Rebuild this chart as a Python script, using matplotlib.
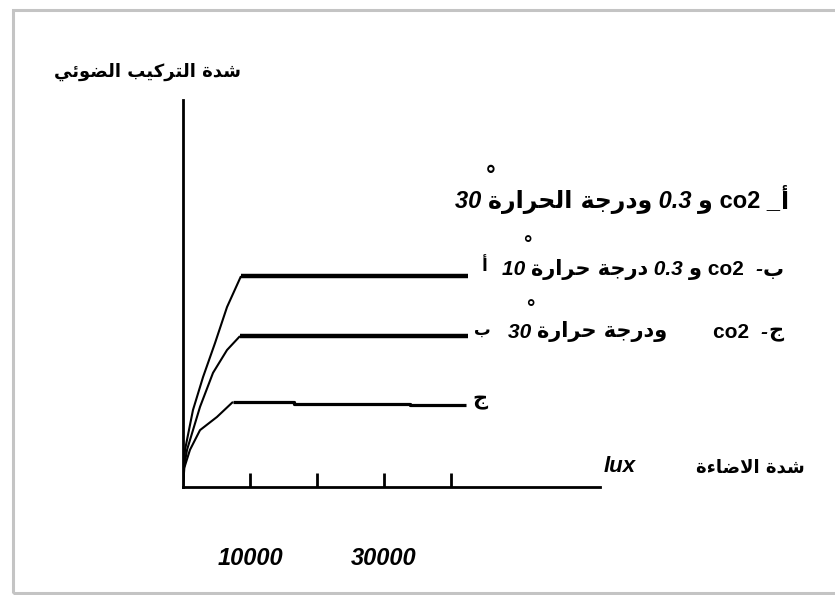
import matplotlib
matplotlib.use("Agg")
import matplotlib.pyplot as plt
from matplotlib.patches import Rectangle

plt.rcParams['font.family'] = ['Liberation Sans', 'DejaVu Sans']

# ---------------- data (lux, relative photosynthesis rate) ----------------
a_rise_x = [0, 150, 300, 1490, 2990, 4780, 6570, 8660]
a_rise_y = [0, 0.5, 0.96, 1.99, 2.84, 3.72, 4.65, 5.45]
a_flat_x = [8660, 42540]
a_flat_y = [5.45, 5.45]

b_rise_x = [0, 150, 600, 2540, 4480, 6570, 8510]
b_rise_y = [0, 0.5, 0.96, 2.07, 2.95, 3.54, 3.90]
b_flat_x = [8510, 42540]
b_flat_y = [3.90, 3.90]

c_rise_x = [0, 200, 1040, 2540, 5070, 7460]
c_rise_y = [0, 0.5, 0.96, 1.47, 1.81, 2.20]
c_flat_x = [7460, 16570, 16570, 33880, 33880, 42240]
c_flat_y = [2.20, 2.20, 2.15, 2.15, 2.12, 2.12]

tick_pos = [10000, 20000, 30000, 40000]
tick_lbl = ["10000", "", "30000", ""]

# ---------------- minimal Arabic shaping (presentation forms) ----------------
FORMS = {
    'ا': (0xFE8D, 0xFE8E, None, None), 'أ': (0xFE83, 0xFE84, None, None),
    'إ': (0xFE87, 0xFE88, None, None), 'آ': (0xFE81, 0xFE82, None, None),
    'ب': (0xFE8F, 0xFE90, 0xFE91, 0xFE92), 'ة': (0xFE93, 0xFE94, None, None),
    'ت': (0xFE95, 0xFE96, 0xFE97, 0xFE98), 'ث': (0xFE99, 0xFE9A, 0xFE9B, 0xFE9C),
    'ج': (0xFE9D, 0xFE9E, 0xFE9F, 0xFEA0), 'ح': (0xFEA1, 0xFEA2, 0xFEA3, 0xFEA4),
    'خ': (0xFEA5, 0xFEA6, 0xFEA7, 0xFEA8), 'د': (0xFEA9, 0xFEAA, None, None),
    'ذ': (0xFEAB, 0xFEAC, None, None), 'ر': (0xFEAD, 0xFEAE, None, None),
    'ز': (0xFEAF, 0xFEB0, None, None), 'س': (0xFEB1, 0xFEB2, 0xFEB3, 0xFEB4),
    'ش': (0xFEB5, 0xFEB6, 0xFEB7, 0xFEB8), 'ص': (0xFEB9, 0xFEBA, 0xFEBB, 0xFEBC),
    'ض': (0xFEBD, 0xFEBE, 0xFEBF, 0xFEC0), 'ط': (0xFEC1, 0xFEC2, 0xFEC3, 0xFEC4),
    'ظ': (0xFEC5, 0xFEC6, 0xFEC7, 0xFEC8), 'ع': (0xFEC9, 0xFECA, 0xFECB, 0xFECC),
    'غ': (0xFECD, 0xFECE, 0xFECF, 0xFED0), 'ف': (0xFED1, 0xFED2, 0xFED3, 0xFED4),
    'ق': (0xFED5, 0xFED6, 0xFED7, 0xFED8), 'ك': (0xFED9, 0xFEDA, 0xFEDB, 0xFEDC),
    'ل': (0xFEDD, 0xFEDE, 0xFEDF, 0xFEE0), 'م': (0xFEE1, 0xFEE2, 0xFEE3, 0xFEE4),
    'ن': (0xFEE5, 0xFEE6, 0xFEE7, 0xFEE8), 'ه': (0xFEE9, 0xFEEA, 0xFEEB, 0xFEEC),
    'و': (0xFEED, 0xFEEE, None, None), 'ى': (0xFEEF, 0xFEF0, None, None),
    'ي': (0xFEF1, 0xFEF2, 0xFEF3, 0xFEF4), 'ئ': (0xFE89, 0xFE8A, 0xFE8B, 0xFE8C),
    'ؤ': (0xFE85, 0xFE86, None, None), 'ء': (0xFE80, None, None, None),
}
LAMALEF = {'ا': (0xFEFB, 0xFEFC), 'أ': (0xFEF7, 0xFEF8),
           'إ': (0xFEF9, 0xFEFA), 'آ': (0xFEF5, 0xFEF6)}


def joins_next(ch):
    return ch in FORMS and FORMS[ch][2] is not None


def joins(ch):
    return ch in FORMS and FORMS[ch][1] is not None


def ar(s):
    out = []
    i = 0
    n = len(s)
    while i < n:
        ch = s[i]
        prev = s[i - 1] if i > 0 else ''
        if ch not in FORMS:
            out.append(ch)
            i += 1
            continue
        cp = joins_next(prev)
        if ch == 'ل' and i + 1 < n and s[i + 1] in LAMALEF:
            iso, fin = LAMALEF[s[i + 1]]
            out.append(chr(fin if cp else iso))
            i += 2
            continue
        nxt = s[i + 1] if i + 1 < n else ''
        cn = joins_next(ch) and joins(nxt)
        cp = cp and joins(ch)
        iso, fin, ini, med = FORMS[ch]
        if cp and cn:
            g = med
        elif cp:
            g = fin
        elif cn:
            g = ini
        else:
            g = iso
        out.append(chr(g))
        i += 1
    return ''.join(reversed(out))


# ---------------- figure ----------------
W, H = 835, 595
fig = plt.figure(figsize=(W / 100, H / 100), dpi=100)
fig.patch.set_facecolor('white')
renderer = fig.canvas.get_renderer()

ox, oy = 183, 487          # origin in pixels
px_per_lux = 67 / 10000
px_per_unit = 38.7
x_end_px, y_top_px = 600, 100
ax = fig.add_axes([ox / W, (H - oy) / H, (x_end_px - ox) / W, (oy - y_top_px) / H])
ax.set_xlim(0, (x_end_px - ox) / px_per_lux)
ax.set_ylim(0, (oy - y_top_px) / px_per_unit)
ax.set_facecolor('none')
for s in ('top', 'right'):
    ax.spines[s].set_visible(False)
for s in ('left', 'bottom'):
    ax.spines[s].set_linewidth(2.0)
    ax.spines[s].set_color('black')
ax.set_yticks([])
ax.set_xticks(tick_pos)
ax.set_xticklabels(tick_lbl, fontsize=17, fontweight='bold', fontstyle='italic')
ax.tick_params(axis='x', direction='in', length=10, width=2, pad=43)

thin, thick = 1.5, 3.2
for rx, ry in ((a_rise_x, a_rise_y), (b_rise_x, b_rise_y), (c_rise_x, c_rise_y)):
    ax.plot(rx, ry, color='black', lw=thin, solid_capstyle='butt')
for fx, fy, lw in ((a_flat_x, a_flat_y, thick), (b_flat_x, b_flat_y, thick), (c_flat_x, c_flat_y, 2.3)):
    ax.plot(fx, fy, color='black', lw=lw, solid_capstyle='butt')

# frame
fig.patches.append(Rectangle((13 / W, 2 / H), 840 / W, 583 / H, transform=fig.transFigure,
                             fill=False, edgecolor='#c4c4c4', lw=2.2))


def style(kind):
    if kind == 'ar':
        return dict(family=['DejaVu Sans'], fontweight='bold', fontstyle='normal')
    if kind == 'up':
        return dict(family=['Liberation Sans', 'DejaVu Sans'], fontweight='bold', fontstyle='normal')
    return dict(family=['Liberation Sans', 'DejaVu Sans'], fontweight='bold', fontstyle='italic')


def ftext(x, y, s, size=14, ha='center', kind='lat'):
    return fig.text(x / W, 1 - y / H, s, ha=ha, va='center', fontsize=size,
                    color='black', **style(kind))


def run(x, y, segs, size):
    """Lay out mixed Latin/Arabic segments left to right (visual order)."""
    cur = x
    for s, kind in segs:
        t = ftext(cur, y, s, size=size, ha='left', kind=kind)
        bb = t.get_window_extent(renderer)
        cur += bb.width


# axis titles
ftext(148, 72, ar('شدة التركيب الضوئي'), size=13, kind='ar')
ftext(604, 467, 'lux', size=16, ha='left')
ftext(750, 468, ar('شدة الاضاءة'), size=13, kind='ar')

# legend lines (visual order, left to right)
run(455, 202, [('30 ', 'lat'), (ar('ودرجة الحرارة'), 'ar'), (' 0.3 ', 'lat'),
               (ar('و'), 'ar'), (' co2 ', 'up'), ('_', 'lat'), (ar('أ'), 'ar')], 17)
run(502, 270, [('10 ', 'lat'), (ar('درجة حرارة'), 'ar'), (' 0.3 ', 'lat'),
               (ar('و'), 'ar'), (' co2  ', 'up'), ('-', 'lat'), (ar('ب'), 'ar')], 15)
run(508, 332, [('30 ', 'lat'), (ar('ودرجة حرارة'), 'ar'),
               ('        co2  ', 'up'), ('-', 'lat'), (ar('ج'), 'ar')], 15)
# degree rings above the temperature values
ftext(490, 175, '°', size=17)
ftext(526, 245, '°', size=15)
ftext(529, 308, '°', size=15)

# curve labels
ftext(485, 266, ar('أ'), size=12, kind='ar')
ftext(482, 330, ar('ب'), size=12, kind='ar')
ftext(480, 400, ar('ج'), size=15, kind='ar')

fig.savefig('out.png', dpi=100)
